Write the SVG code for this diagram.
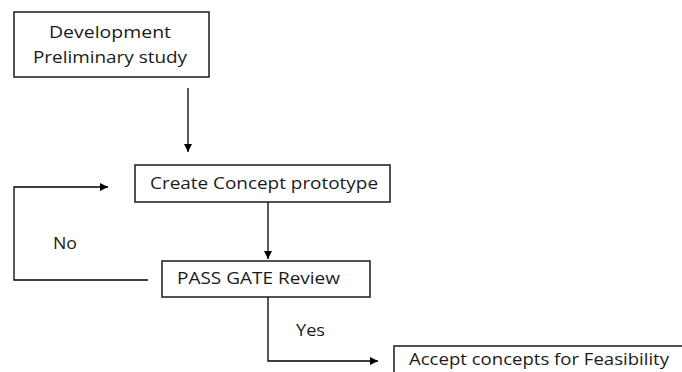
<svg xmlns="http://www.w3.org/2000/svg" width="682" height="372" viewBox="0 0 682 372">
<defs>
<marker id="ah" viewBox="0 0 10 10" refX="10" refY="5" markerWidth="10" markerHeight="8" markerUnits="userSpaceOnUse" orient="auto">
<path d="M0,0 L10,5 L0,10 z" fill="#000"/>
</marker>
</defs>
<style>
.box{fill:#fff;stroke:#1a1a1a;stroke-width:1.5}
.t{font-family:"Open Sans","Liberation Sans",sans-serif;font-size:16px;fill:#1a1a1a}
.c{fill:none;stroke:#000;stroke-width:1.3}
</style>
<rect width="682" height="372" fill="#fff"/>
<g id="connectors">
<path class="c" d="M188,88 V152" marker-end="url(#ah)"/>
<path class="c" d="M268,202 V259" marker-end="url(#ah)"/>
<path class="c" d="M148,280 H14 V187 H108" marker-end="url(#ah)"/>
<path class="c" d="M268,297 V361 H378" marker-end="url(#ah)"/>
<text class="t" x="53" y="249" textLength="24" lengthAdjust="spacingAndGlyphs">No</text>
<text class="t" x="296" y="336" textLength="29" lengthAdjust="spacingAndGlyphs">Yes</text>
</g>
<g id="n1">
<rect class="box" x="14" y="12" width="195" height="65"/>
<text class="t" x="49" y="38" textLength="122" lengthAdjust="spacingAndGlyphs">Development</text>
<text class="t" x="33" y="63" textLength="154" lengthAdjust="spacingAndGlyphs">Preliminary study</text>
</g>
<g id="n2">
<rect class="box" x="135" y="165" width="255" height="37"/>
<text class="t" x="150" y="189" textLength="228" lengthAdjust="spacingAndGlyphs">Create Concept prototype</text>
</g>
<g id="n3">
<rect class="box" x="162" y="261" width="208" height="36"/>
<text class="t" x="177" y="284" textLength="163" lengthAdjust="spacingAndGlyphs">PASS GATE Review</text>
</g>
<g id="n4">
<rect class="box" x="394" y="346" width="320" height="40"/>
<text class="t" x="409" y="365" font-size="14" textLength="260" lengthAdjust="spacingAndGlyphs">Accept concepts for Feasibility</text>
</g>
</svg>
